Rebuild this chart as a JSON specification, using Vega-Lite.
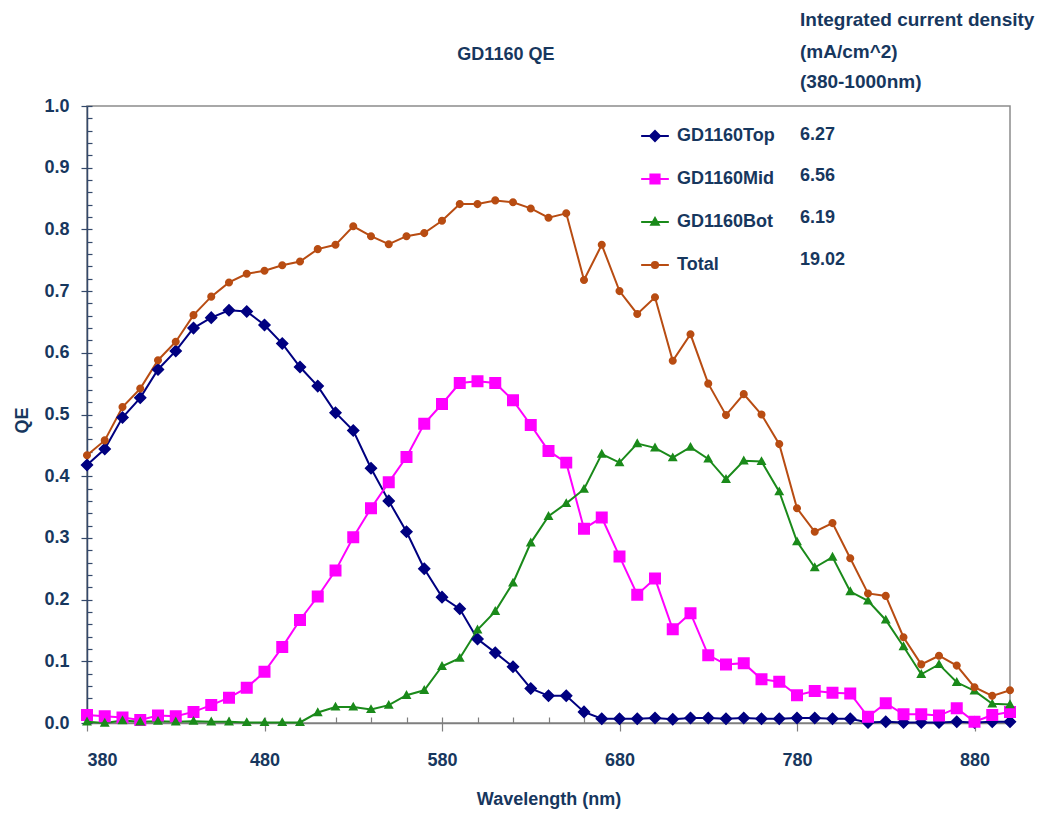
{
  "$schema": "https://vega.github.io/schema/vega-lite/v6.json",
  "width": 923,
  "height": 617,
  "autosize": {"type": "none"},
  "padding": {"left": 87, "top": 106, "right": 34, "bottom": 92},
  "background": "white",
  "config": {
    "font": "Liberation Sans",
    "view": {"stroke": "#8c8c8c", "strokeWidth": 1.5},
    "axis": {"grid": false}
  },
  "data": {
    "values": [
      {"wl": 380, "GD1160Top": 0.418, "GD1160Mid": 0.013, "GD1160Bot": 0.002, "Total": 0.434},
      {"wl": 390, "GD1160Top": 0.444, "GD1160Mid": 0.011, "GD1160Bot": 0.000, "Total": 0.458},
      {"wl": 400, "GD1160Top": 0.495, "GD1160Mid": 0.009, "GD1160Bot": 0.004, "Total": 0.512},
      {"wl": 410, "GD1160Top": 0.527, "GD1160Mid": 0.005, "GD1160Bot": 0.002, "Total": 0.542},
      {"wl": 420, "GD1160Top": 0.573, "GD1160Mid": 0.012, "GD1160Bot": 0.003, "Total": 0.588},
      {"wl": 430, "GD1160Top": 0.603, "GD1160Mid": 0.011, "GD1160Bot": 0.002, "Total": 0.618},
      {"wl": 440, "GD1160Top": 0.640, "GD1160Mid": 0.018, "GD1160Bot": 0.003, "Total": 0.661},
      {"wl": 450, "GD1160Top": 0.657, "GD1160Mid": 0.029, "GD1160Bot": 0.002, "Total": 0.691},
      {"wl": 460, "GD1160Top": 0.669, "GD1160Mid": 0.041, "GD1160Bot": 0.002, "Total": 0.714},
      {"wl": 470, "GD1160Top": 0.667, "GD1160Mid": 0.057, "GD1160Bot": 0.001, "Total": 0.728},
      {"wl": 480, "GD1160Top": 0.645, "GD1160Mid": 0.083, "GD1160Bot": 0.001, "Total": 0.733},
      {"wl": 490, "GD1160Top": 0.615, "GD1160Mid": 0.123, "GD1160Bot": 0.001, "Total": 0.742},
      {"wl": 500, "GD1160Top": 0.577, "GD1160Mid": 0.167, "GD1160Bot": 0.001, "Total": 0.748},
      {"wl": 510, "GD1160Top": 0.546, "GD1160Mid": 0.205, "GD1160Bot": 0.017, "Total": 0.768},
      {"wl": 520, "GD1160Top": 0.503, "GD1160Mid": 0.247, "GD1160Bot": 0.026, "Total": 0.775},
      {"wl": 530, "GD1160Top": 0.474, "GD1160Mid": 0.301, "GD1160Bot": 0.026, "Total": 0.805},
      {"wl": 540, "GD1160Top": 0.413, "GD1160Mid": 0.348, "GD1160Bot": 0.022, "Total": 0.789},
      {"wl": 550, "GD1160Top": 0.360, "GD1160Mid": 0.390, "GD1160Bot": 0.029, "Total": 0.776},
      {"wl": 560, "GD1160Top": 0.310, "GD1160Mid": 0.431, "GD1160Bot": 0.045, "Total": 0.789},
      {"wl": 570, "GD1160Top": 0.250, "GD1160Mid": 0.485, "GD1160Bot": 0.053, "Total": 0.794},
      {"wl": 580, "GD1160Top": 0.204, "GD1160Mid": 0.517, "GD1160Bot": 0.092, "Total": 0.814},
      {"wl": 590, "GD1160Top": 0.185, "GD1160Mid": 0.551, "GD1160Bot": 0.105, "Total": 0.841},
      {"wl": 600, "GD1160Top": 0.136, "GD1160Mid": 0.554, "GD1160Bot": 0.151, "Total": 0.841},
      {"wl": 610, "GD1160Top": 0.114, "GD1160Mid": 0.551, "GD1160Bot": 0.181, "Total": 0.847},
      {"wl": 620, "GD1160Top": 0.091, "GD1160Mid": 0.523, "GD1160Bot": 0.227, "Total": 0.844},
      {"wl": 630, "GD1160Top": 0.056, "GD1160Mid": 0.483, "GD1160Bot": 0.292, "Total": 0.834},
      {"wl": 640, "GD1160Top": 0.044, "GD1160Mid": 0.441, "GD1160Bot": 0.335, "Total": 0.819},
      {"wl": 650, "GD1160Top": 0.044, "GD1160Mid": 0.422, "GD1160Bot": 0.356, "Total": 0.826},
      {"wl": 660, "GD1160Top": 0.018, "GD1160Mid": 0.315, "GD1160Bot": 0.379, "Total": 0.718},
      {"wl": 670, "GD1160Top": 0.007, "GD1160Mid": 0.333, "GD1160Bot": 0.436, "Total": 0.775},
      {"wl": 680, "GD1160Top": 0.007, "GD1160Mid": 0.270, "GD1160Bot": 0.422, "Total": 0.700},
      {"wl": 690, "GD1160Top": 0.007, "GD1160Mid": 0.208, "GD1160Bot": 0.453, "Total": 0.663},
      {"wl": 700, "GD1160Top": 0.008, "GD1160Mid": 0.234, "GD1160Bot": 0.446, "Total": 0.690},
      {"wl": 710, "GD1160Top": 0.006, "GD1160Mid": 0.152, "GD1160Bot": 0.430, "Total": 0.587},
      {"wl": 720, "GD1160Top": 0.008, "GD1160Mid": 0.178, "GD1160Bot": 0.447, "Total": 0.630},
      {"wl": 730, "GD1160Top": 0.008, "GD1160Mid": 0.110, "GD1160Bot": 0.428, "Total": 0.550},
      {"wl": 740, "GD1160Top": 0.007, "GD1160Mid": 0.095, "GD1160Bot": 0.395, "Total": 0.499},
      {"wl": 750, "GD1160Top": 0.008, "GD1160Mid": 0.097, "GD1160Bot": 0.425, "Total": 0.533},
      {"wl": 760, "GD1160Top": 0.007, "GD1160Mid": 0.071, "GD1160Bot": 0.424, "Total": 0.500},
      {"wl": 770, "GD1160Top": 0.007, "GD1160Mid": 0.067, "GD1160Bot": 0.375, "Total": 0.452},
      {"wl": 780, "GD1160Top": 0.008, "GD1160Mid": 0.045, "GD1160Bot": 0.294, "Total": 0.348},
      {"wl": 790, "GD1160Top": 0.008, "GD1160Mid": 0.052, "GD1160Bot": 0.252, "Total": 0.310},
      {"wl": 800, "GD1160Top": 0.007, "GD1160Mid": 0.049, "GD1160Bot": 0.269, "Total": 0.324},
      {"wl": 810, "GD1160Top": 0.007, "GD1160Mid": 0.048, "GD1160Bot": 0.213, "Total": 0.267},
      {"wl": 820, "GD1160Top": 0.001, "GD1160Mid": 0.010, "GD1160Bot": 0.198, "Total": 0.210},
      {"wl": 830, "GD1160Top": 0.002, "GD1160Mid": 0.032, "GD1160Bot": 0.167, "Total": 0.206},
      {"wl": 840, "GD1160Top": 0.001, "GD1160Mid": 0.014, "GD1160Bot": 0.124, "Total": 0.139},
      {"wl": 850, "GD1160Top": 0.001, "GD1160Mid": 0.014, "GD1160Bot": 0.079, "Total": 0.095},
      {"wl": 860, "GD1160Top": 0.001, "GD1160Mid": 0.012, "GD1160Bot": 0.095, "Total": 0.109},
      {"wl": 870, "GD1160Top": 0.002, "GD1160Mid": 0.024, "GD1160Bot": 0.066, "Total": 0.093},
      {"wl": 880, "GD1160Top": 0.001, "GD1160Mid": 0.002, "GD1160Bot": 0.052, "Total": 0.058},
      {"wl": 890, "GD1160Top": 0.002, "GD1160Mid": 0.013, "GD1160Bot": 0.031, "Total": 0.044},
      {"wl": 900, "GD1160Top": 0.002, "GD1160Mid": 0.018, "GD1160Bot": 0.030, "Total": 0.053}
    ]
  },
  "transform": [
    {"fold": ["GD1160Top", "GD1160Mid", "GD1160Bot", "Total"], "as": ["series", "qe"]}
  ],
  "resolve": {"axis": {"x": "independent", "y": "independent"}},
  "layer": [
    {
      "mark": {"type": "line", "strokeWidth": 2},
      "encoding": {
        "x": {
          "field": "wl", "type": "quantitative",
          "scale": {"domain": [380, 900], "nice": false, "zero": false},
          "axis": {
            "orient": "bottom",
            "values": [380, 480, 580, 680, 780, 880],
            "title": "Wavelength (nm)",
            "titleFontSize": 18, "titleFontWeight": "bold", "titleColor": "#17375e",
            "titleY": 76, "titleBaseline": "middle",
            "labelFontSize": 18, "labelFontWeight": "bold", "labelColor": "#17375e",
            "labelPadding": 20,
            "tickSize": 8, "tickColor": "#7f7f7f", "tickWidth": 1.2,
            "domainColor": "#7f7f7f", "domainWidth": 1.5
          }
        },
        "y": {
          "field": "qe", "type": "quantitative",
          "scale": {"domain": [0, 1], "nice": false},
          "axis": {
            "orient": "left",
            "values": [0, 0.1, 0.2, 0.3, 0.4, 0.5, 0.6, 0.7, 0.8, 0.9, 1.0],
            "format": ".1f",
            "title": "QE",
            "titleFontSize": 18, "titleFontWeight": "bold", "titleColor": "#17375e",
            "titleX": -65, "titleY": 314, "titleAngle": -90, "titleBaseline": "middle", "titleAlign": "center",
            "labelFontSize": 18, "labelFontWeight": "bold", "labelColor": "#17375e",
            "labelPadding": 12,
            "tickSize": 6, "tickColor": "#34496b", "tickWidth": 1.2,
            "domainColor": "#34496b", "domainWidth": 1.5
          }
        },
        "color": {
          "field": "series", "type": "nominal",
          "scale": {
            "domain": ["GD1160Top", "GD1160Mid", "GD1160Bot", "Total"],
            "range": ["#000080", "#ff00ff", "#1a8a1a", "#b84c12"]
          },
          "legend": {
            "orient": "none",
            "legendX": 559,
            "legendY": 21,
            "title": null,
            "padding": 0,
            "rowPadding": 25,
            "labelOffset": 13,
            "labelFontSize": 18,
            "labelFontWeight": "bold",
            "labelColor": "#17375e",
            "labelFont": "Liberation Sans",
            "symbolStrokeWidth": 2
          }
        }
      }
    },
    {
      "mark": {"type": "point", "filled": true, "opacity": 1, "size": 170},
      "encoding": {
        "x": {
          "field": "wl", "type": "quantitative",
          "axis": {
            "orient": "bottom",
            "values": [380, 400, 420, 440, 460, 480, 500, 520, 540, 560, 580, 600, 620, 640, 660, 680, 700, 720, 740, 760, 780, 800, 820, 840, 860, 880, 900],
            "labels": false, "domain": false, "title": null,
            "tickSize": -6, "tickColor": "#7f7f7f", "tickWidth": 1.2
          }
        },
        "y": {
          "field": "qe", "type": "quantitative",
          "axis": {
            "orient": "left",
            "values": [0, 0.02, 0.04, 0.06, 0.08, 0.1, 0.12, 0.14, 0.16, 0.18, 0.2, 0.22, 0.24, 0.26, 0.28, 0.3, 0.32, 0.34, 0.36, 0.38, 0.4, 0.42, 0.44, 0.46, 0.48, 0.5, 0.52, 0.54, 0.56, 0.58, 0.6, 0.62, 0.64, 0.66, 0.68, 0.7, 0.72, 0.74, 0.76, 0.78, 0.8, 0.82, 0.84, 0.86, 0.88, 0.9, 0.92, 0.94, 0.96, 0.98, 1.0],
            "labels": false, "domain": false, "title": null,
            "tickSize": -5, "tickColor": "#34496b", "tickWidth": 1.2
          }
        },
        "color": {"field": "series", "type": "nominal"},
        "shape": {
          "field": "series", "type": "nominal",
          "scale": {
            "domain": ["GD1160Top", "GD1160Mid", "GD1160Bot", "Total"],
            "range": [
              "M-2.77,0H2.77M0,-1L1,0L0,1L-1,0Z",
              "M-2.77,0H2.77M-0.92,-0.92H0.92V0.92H-0.92Z",
              "M-2.77,0H2.77M0,-0.8L0.76,0.56H-0.76Z",
              "M-2.77,0H2.77M0.62,0A0.62,0.62,0,1,1,-0.62,0A0.62,0.62,0,1,1,0.62,0Z"
            ]
          },
          "legend": null
        }
      }
    },
    {
      "data": {
        "values": [
          {"wl": 616, "qe": 1.083, "note": "GD1160 QE"}
        ]
      },
      "mark": {"type": "text", "align": "center", "baseline": "middle", "fontSize": 18, "fontWeight": "bold", "color": "#17375e"},
      "encoding": {
        "x": {"field": "wl", "type": "quantitative", "axis": null},
        "y": {"field": "qe", "type": "quantitative", "axis": null},
        "text": {"field": "note"}
      }
    },
    {
      "data": {
        "values": [
          {"wl": 781.7, "qe": 1.139, "note": "Integrated current density"},
          {"wl": 781.7, "qe": 1.087, "note": "(mA/cm^2)"},
          {"wl": 781.7, "qe": 1.039, "note": "(380-1000nm)"}
        ]
      },
      "mark": {"type": "text", "align": "left", "baseline": "middle", "fontSize": 19, "fontWeight": "bold", "color": "#17375e"},
      "encoding": {
        "x": {"field": "wl", "type": "quantitative", "axis": null},
        "y": {"field": "qe", "type": "quantitative", "axis": null},
        "text": {"field": "note"}
      }
    },
    {
      "data": {
        "values": [
          {"wl": 781.7, "qe": 0.953, "note": "6.27"},
          {"wl": 781.7, "qe": 0.887, "note": "6.56"},
          {"wl": 781.7, "qe": 0.819, "note": "6.19"},
          {"wl": 781.7, "qe": 0.750, "note": "19.02"}
        ]
      },
      "mark": {"type": "text", "align": "left", "baseline": "middle", "fontSize": 18, "fontWeight": "bold", "color": "#17375e"},
      "encoding": {
        "x": {"field": "wl", "type": "quantitative", "axis": null},
        "y": {"field": "qe", "type": "quantitative", "axis": null},
        "text": {"field": "note"}
      }
    }
  ]
}
